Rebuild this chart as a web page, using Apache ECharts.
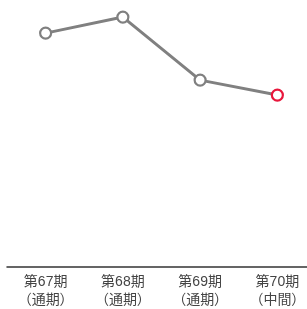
<!DOCTYPE html>
<html>
<head>
<meta charset="utf-8">
<script src="https://cdn.jsdelivr.net/npm/echarts@6/dist/echarts.min.js"></script>
<style>
  html, body { margin: 0; padding: 0; background: #fff; }
  #chart { width: 307px; height: 309px; }
</style>
</head>
<body>
<div id="chart"></div>
<script>
// 期ごとの推移（縦軸は非表示のため値は画像からの概算）
var periods = ['第67期\n（通期）', '第68期\n（通期）', '第69期\n（通期）', '第70期\n（中間）'];
var values = [87.6, 93.6, 70.0, 64.4];
var yMin = 0;
var yMax = 100;

var chart = echarts.init(document.getElementById('chart'));

var seriesData = [];
for (var i = 0, len = values.length; i < len; i++) {
    var item = { value: values[i] };
    if (i === len - 1) {
        // 最新期は赤で強調
        item.itemStyle = { borderColor: '#e8173c' };
    }
    seriesData.push(item);
}

chart.setOption({
    animation: false,
    grid: {
        left: 7,
        top: 0,
        width: 309,
        height: 267,
        containLabel: false,
        outerBoundsMode: 'none'
    },
    xAxis: {
        type: 'category',
        data: periods,
        boundaryGap: true,
        axisLine: { lineStyle: { color: '#333', width: 1.5 } },
        axisTick: { show: false },
        axisLabel: {
            color: '#444',
            fontSize: 14,
            lineHeight: 18,
            margin: 6,
            fontFamily: '"Liberation Sans", "Noto Sans CJK JP", sans-serif'
        }
    },
    yAxis: {
        type: 'value',
        min: yMin,
        max: yMax,
        show: false,
        splitLine: { show: false }
    },
    series: [{
        type: 'line',
        data: seriesData,
        symbol: 'circle',
        symbolSize: 11,
        lineStyle: { color: '#808080', width: 3 },
        itemStyle: { color: '#fff', borderColor: '#808080', borderWidth: 2.2 }
    }]
});
</script>
</body>
</html>
